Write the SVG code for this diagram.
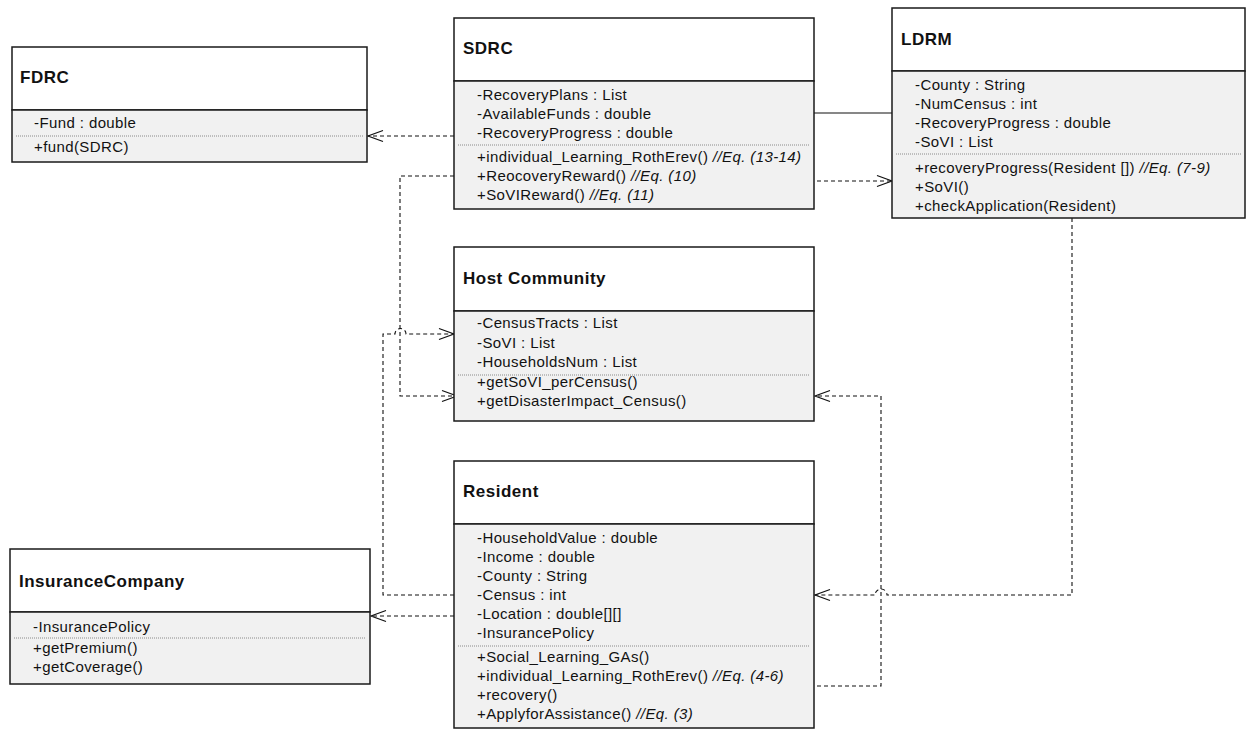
<svg xmlns="http://www.w3.org/2000/svg" width="1248" height="730" viewBox="0 0 1248 730">
<defs>
<style>
.hdr{fill:#ffffff;stroke:#1a1a1a;stroke-width:1.5}
.body{fill:#f1f1f1;stroke:#1a1a1a;stroke-width:1.5}
.div{stroke:#8a8a8a;stroke-width:1;stroke-dasharray:1 1;fill:none}
.title{font-family:"Liberation Sans",Arial,sans-serif;font-weight:bold;font-size:17px;letter-spacing:0.5px;fill:#111}
.t{font-family:"Liberation Sans",Arial,sans-serif;font-size:15px;letter-spacing:0.4px;fill:#111}
.i{font-style:italic}
.dash{fill:none;stroke:#111;stroke-width:1.1;stroke-dasharray:4 3}
.solid{fill:none;stroke:#111;stroke-width:1.1}
</style>
<marker id="open" markerWidth="20" markerHeight="16" refX="16" refY="8" orient="auto" markerUnits="userSpaceOnUse">
<path d="M1,2.5 L16,8 L1,13.5" fill="none" stroke="#111" stroke-width="1.2"/>
</marker>
</defs>
<rect width="1248" height="730" fill="#ffffff"/>

<g id="connectors">
<path class="dash" d="M454,136 L368,136" marker-end="url(#open)"/>
<path class="solid" d="M814,113 L892,113"/>
<path class="dash" d="M810,181 L892,181" marker-end="url(#open)"/>
<path class="dash" d="M454,176 L400,176 L400,396 L457,396" marker-end="url(#open)"/>
<path class="dash" d="M454,595 L383,595 L383,334 L395,334 A5.5,5.5 0 0 1 406,334 L454,334" marker-end="url(#open)"/>
<path class="dash" d="M810,686 L881,686 L881,396 L815,396" marker-end="url(#open)"/>
<path class="dash" d="M1072,218 L1072,595 L887,595 A6,6 0 0 0 875,595 L815,595" marker-end="url(#open)"/>
<path class="dash" d="M454,616 L371,616" marker-end="url(#open)"/>
</g>

<g id="FDRC">
<rect class="hdr" x="12" y="47" width="355" height="63"/>
<rect class="body" x="12" y="110" width="355" height="52"/>
<text class="title" x="20" y="83">FDRC</text>
<text class="t" x="34" y="128">-Fund : double</text>
<line class="div" x1="16" y1="136" x2="363" y2="136"/>
<text class="t" x="34" y="152">+fund(SDRC)</text>
</g>

<g id="SDRC">
<rect class="hdr" x="454" y="18" width="360" height="63"/>
<rect class="body" x="454" y="81" width="360" height="128"/>
<text class="title" x="463" y="54">SDRC</text>
<text class="t" x="477" y="100">-RecoveryPlans : List</text>
<text class="t" x="477" y="119">-AvailableFunds : double</text>
<text class="t" x="477" y="138">-RecoveryProgress : double</text>
<line class="div" x1="458" y1="145" x2="810" y2="145"/>
<text class="t" x="477" y="162">+individual_Learning_RothErev() <tspan class="i">//Eq. (13-14)</tspan></text>
<text class="t" x="477" y="181">+ReocoveryReward() <tspan class="i">//Eq. (10)</tspan></text>
<text class="t" x="477" y="200">+SoVIReward() <tspan class="i">//Eq. (11)</tspan></text>
</g>

<g id="LDRM">
<rect class="hdr" x="892" y="8" width="353" height="63"/>
<rect class="body" x="892" y="71" width="353" height="147"/>
<text class="title" x="901" y="45">LDRM</text>
<text class="t" x="915" y="90">-County : String</text>
<text class="t" x="915" y="109">-NumCensus : int</text>
<text class="t" x="915" y="128">-RecoveryProgress : double</text>
<text class="t" x="915" y="147">-SoVI : List</text>
<line class="div" x1="896" y1="154" x2="1241" y2="154"/>
<text class="t" x="915" y="173">+recoveryProgress(Resident []) <tspan class="i">//Eq. (7-9)</tspan></text>
<text class="t" x="915" y="192">+SoVI()</text>
<text class="t" x="915" y="211">+checkApplication(Resident)</text>
</g>

<g id="HostCommunity">
<rect class="hdr" x="454" y="247" width="360" height="64"/>
<rect class="body" x="454" y="311" width="360" height="110"/>
<text class="title" x="463" y="284">Host Community</text>
<text class="t" x="477" y="328">-CensusTracts : List</text>
<text class="t" x="477" y="348">-SoVI : List</text>
<text class="t" x="477" y="367">-HouseholdsNum : List</text>
<line class="div" x1="458" y1="375" x2="810" y2="375"/>
<text class="t" x="477" y="387">+getSoVI_perCensus()</text>
<text class="t" x="477" y="406">+getDisasterImpact_Census()</text>
</g>

<g id="Resident">
<rect class="hdr" x="454" y="461" width="360" height="63"/>
<rect class="body" x="454" y="524" width="360" height="204"/>
<text class="title" x="463" y="497">Resident</text>
<text class="t" x="477" y="543">-HouseholdValue : double</text>
<text class="t" x="477" y="562">-Income : double</text>
<text class="t" x="477" y="581">-County : String</text>
<text class="t" x="477" y="600">-Census : int</text>
<text class="t" x="477" y="619">-Location : double[][]</text>
<text class="t" x="477" y="638">-InsurancePolicy</text>
<line class="div" x1="458" y1="646" x2="810" y2="646"/>
<text class="t" x="477" y="662">+Social_Learning_GAs()</text>
<text class="t" x="477" y="681">+individual_Learning_RothErev() <tspan class="i">//Eq. (4-6)</tspan></text>
<text class="t" x="477" y="700">+recovery()</text>
<text class="t" x="477" y="719">+ApplyforAssistance() <tspan class="i">//Eq. (3)</tspan></text>
</g>

<g id="InsuranceCompany">
<rect class="hdr" x="10" y="549" width="360" height="63"/>
<rect class="body" x="10" y="612" width="360" height="72"/>
<text class="title" x="19" y="587">InsuranceCompany</text>
<text class="t" x="33" y="632">-InsurancePolicy</text>
<line class="div" x1="14" y1="638" x2="366" y2="638"/>
<text class="t" x="33" y="653">+getPremium()</text>
<text class="t" x="33" y="672">+getCoverage()</text>
</g>
</svg>
